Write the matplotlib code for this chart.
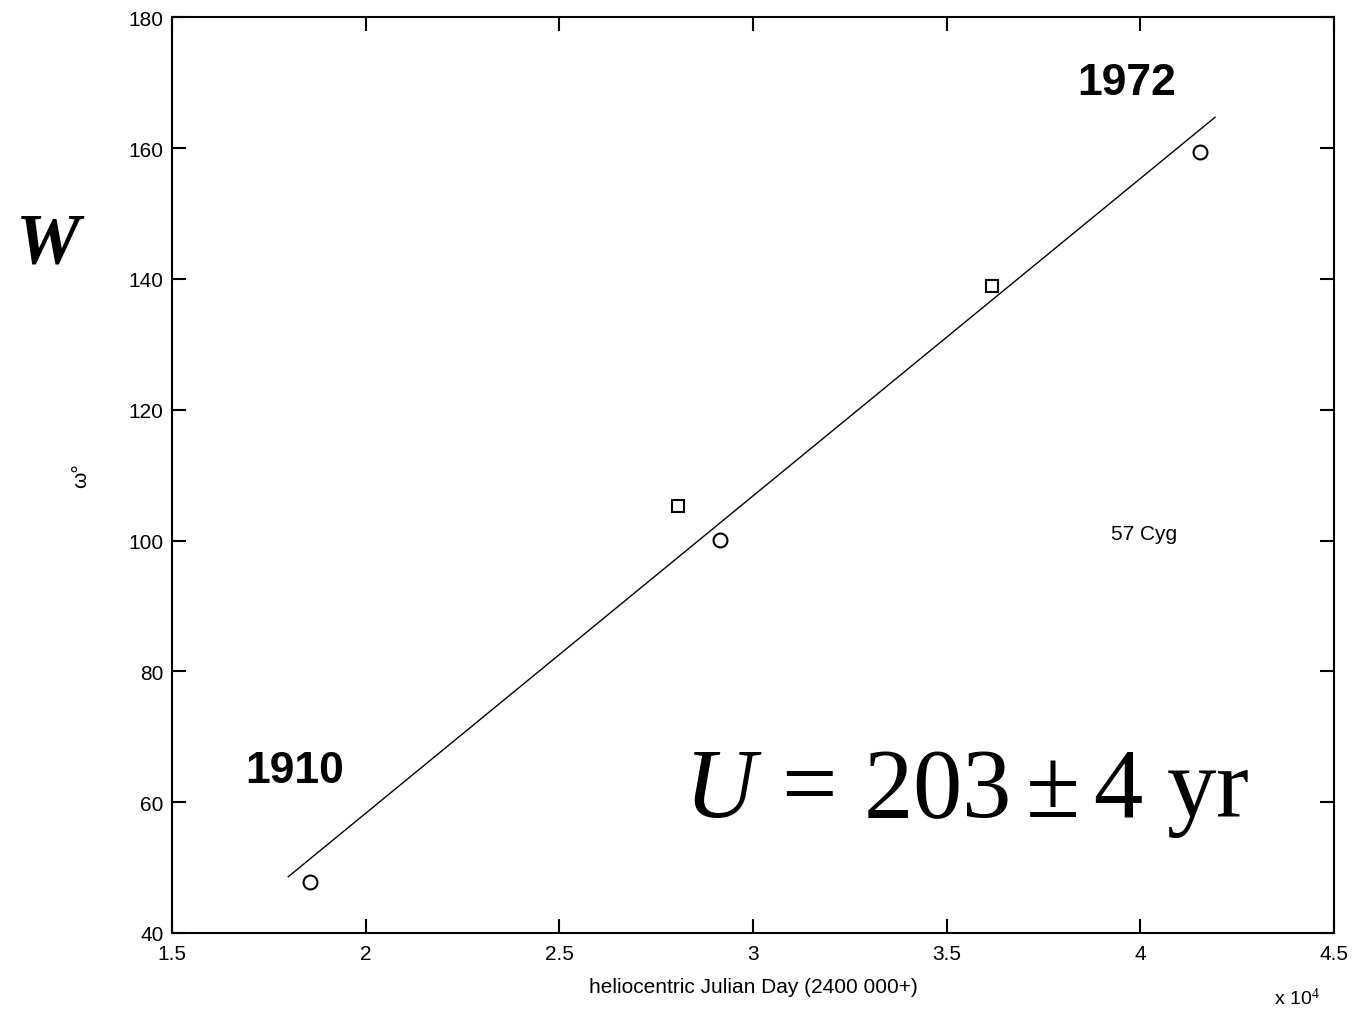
import matplotlib
matplotlib.use("Agg")
import matplotlib.pyplot as plt

# observations (x in units of 1e4 days, HJD - 2400000)
circle_jd = [1.856, 2.915, 4.155]
circle_w = [47.8, 100.1, 159.4]
square_jd = [2.806, 3.617]
square_w = [105.3, 138.9]

# fitted line end points
fit_jd = [1.80, 4.193]
fit_w = [48.6, 164.7]

xticks = [1.5, 2, 2.5, 3, 3.5, 4, 4.5]
xtick_labels = ["1.5", "2", "2.5", "3", "3.5", "4", "4.5"]
yticks = [40, 60, 80, 100, 120, 140, 160, 180]

plt.rcParams["font.family"] = ["Liberation Sans", "DejaVu Sans"]
plt.rcParams["mathtext.fontset"] = "custom"
plt.rcParams["mathtext.rm"] = "Liberation Serif"
plt.rcParams["mathtext.it"] = "Liberation Serif:italic"

fig = plt.figure(figsize=(13.57, 10.12), dpi=100)
ax = fig.add_axes([0.1268, 0.0771, 0.8562, 0.9049])

ax.plot(fit_jd, fit_w, color="black", linewidth=1.0)
ax.plot(circle_jd, circle_w, linestyle="none", marker="o", markersize=10,
        markerfacecolor="white", markeredgecolor="black", markeredgewidth=1.5)
ax.plot(square_jd, square_w, linestyle="none", marker="s", markersize=9,
        markerfacecolor="white", markeredgecolor="black", markeredgewidth=1.5)

ax.set_xlim(1.5, 4.5)
ax.set_ylim(40, 180)
ax.set_xticks(xticks)
ax.set_xticklabels(xtick_labels)
ax.set_yticks(yticks)
ax.tick_params(direction="in", length=10, width=1.5, top=True, right=True,
               labelsize=15)
ax.tick_params(axis="x", pad=8)
ax.tick_params(axis="y", pad=6)
for s in ax.spines.values():
    s.set_linewidth(1.5)

ax.set_xlabel("heliocentric Julian Day (2400 000+)", fontsize=15, labelpad=10)
ax.set_ylabel("ω°", fontsize=15, labelpad=28)

fig.text(0.939, 0.003, r"x 10$^{4}$", fontsize=14, ha="left", va="bottom")

ax.text(3.966, 170.0, "1972", fontsize=32, fontweight="bold", ha="center", va="center")
ax.text(1.817, 64.8, "1910", fontsize=32, fontweight="bold", ha="center", va="center")
ax.text(4.01, 101.0, "57 Cyg", fontsize=15, ha="center", va="center")
ax.text(3.553, 61.3, r"$U\,=\,203\pm 4\ \mathrm{yr}$", fontsize=71,
        ha="center", va="center")

fig.text(0.035, 0.758, "W", fontsize=52, fontweight="bold", fontstyle="italic",
         family="Liberation Serif", ha="center", va="center")

fig.savefig("out.png", dpi=100)
